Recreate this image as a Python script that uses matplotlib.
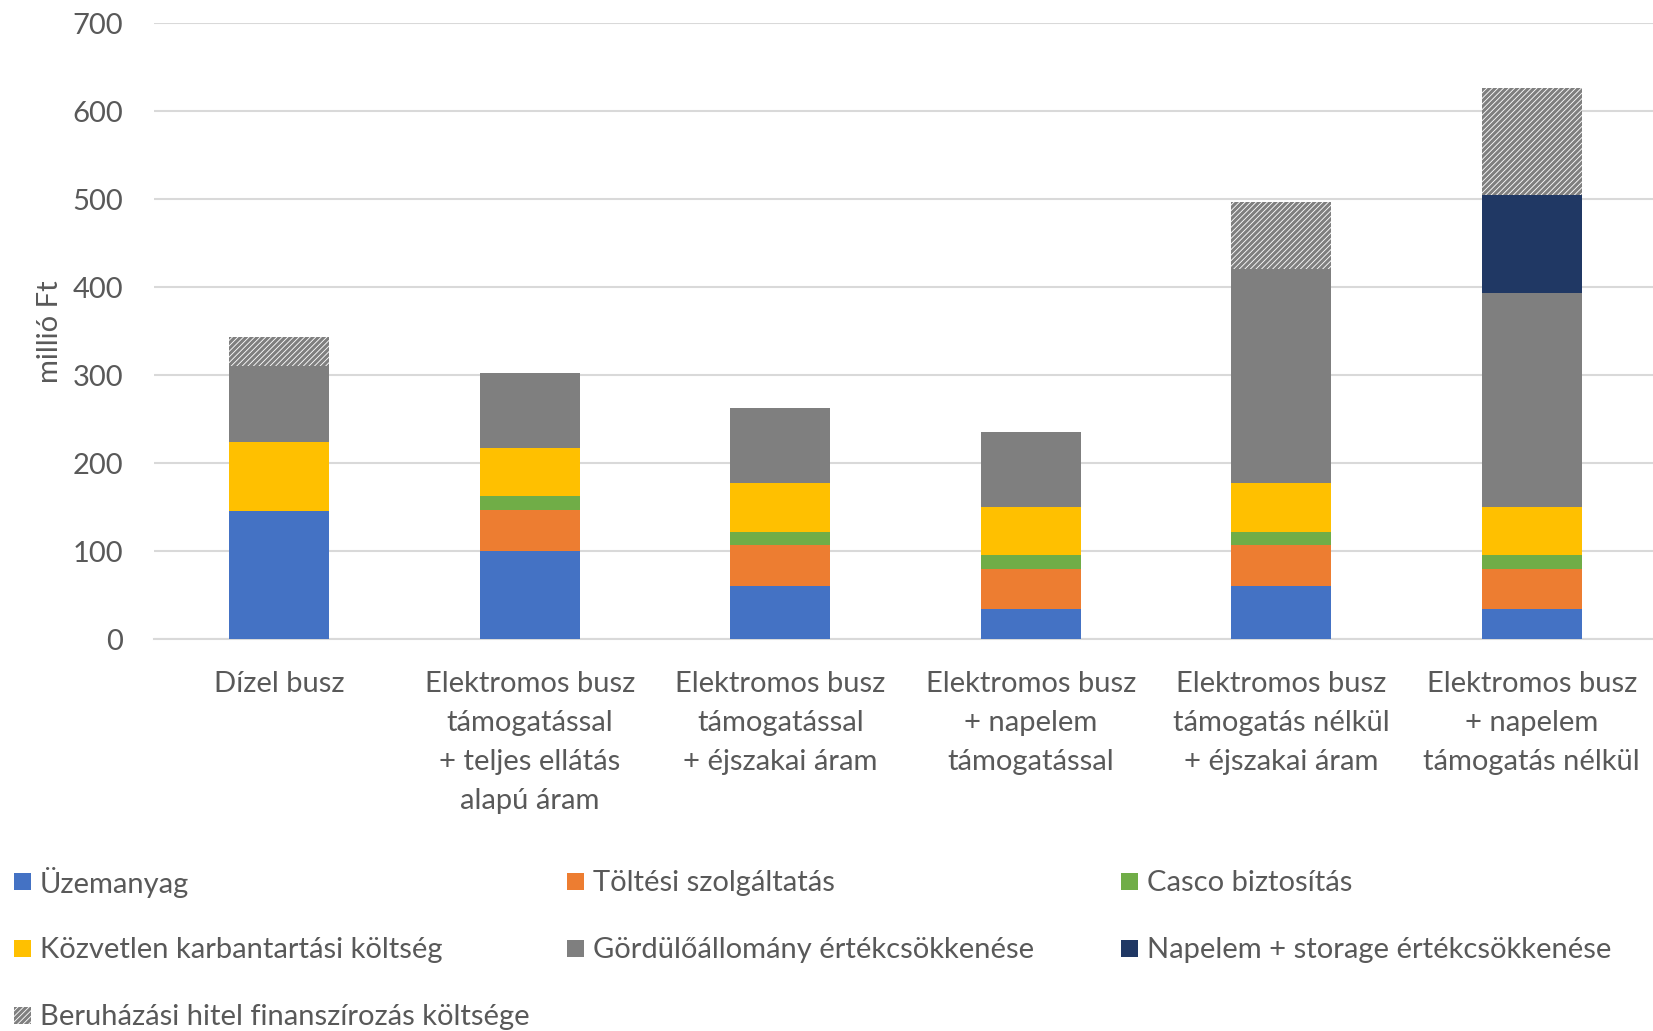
import numpy as np
import matplotlib.pyplot as plt
from matplotlib.patches import Rectangle

plt.rcParams['font.family'] = ['Lato', 'DejaVu Sans']
plt.rcParams['hatch.linewidth'] = 2.2
plt.rcParams['hatch.color'] = '#7F7F7F'

categories = [
    'Dízel busz',
    'Elektromos busz\ntámogatással\n+ teljes ellátás\nalapú áram',
    'Elektromos busz\ntámogatással\n+ éjszakai áram',
    'Elektromos busz\n+ napelem\ntámogatással',
    'Elektromos busz\ntámogatás nélkül\n+ éjszakai áram',
    'Elektromos busz\n+ napelem\ntámogatás nélkül',
]

# millió Ft per cost component
uzemanyag = [146, 100, 60, 34, 60, 34]
toltes = [0, 47, 47, 46, 47, 46]
casco = [0, 15, 15, 15, 15, 15]
karbantartas = [78, 55, 55, 55, 55, 55]
gordulo = [86, 85, 85, 85, 243, 243]
napelem = [0, 0, 0, 0, 0, 112]
hitel = [33, 0, 0, 0, 77, 121]

series = [
    ('Üzemanyag', uzemanyag, '#4472C4', None),
    ('Töltési szolgáltatás', toltes, '#ED7D31', None),
    ('Casco biztosítás', casco, '#70AD47', None),
    ('Közvetlen karbantartási költség', karbantartas, '#FFC000', None),
    ('Gördülőállomány értékcsökkenése', gordulo, '#7F7F7F', None),
    ('Napelem + storage értékcsökkenése', napelem, '#203864', None),
    ('Beruházási hitel finanszírozás költsége', hitel, 'white', '//////'),
]

W, H = 1653, 1031
FS = 21
fig = plt.figure(figsize=(W / 100, H / 100), dpi=100)
ax = fig.add_axes([154 / W, 1 - 639 / H, 6 * 250.5 / W, (639 - 23) / H])

x = np.arange(len(categories))
bottom = np.zeros(len(categories))
for name, vals, color, hatch in series:
    vals = np.array(vals, dtype=float)
    ax.bar(x, vals, 0.40, bottom=bottom, color=color, hatch=hatch,
           linewidth=0, zorder=3)
    bottom += vals

ax.set_xlim(-0.5, len(categories) - 0.5)
ax.set_ylim(0, 700)
ax.set_yticks(range(0, 701, 100))
ax.grid(axis='y', color='#D9D9D9', linewidth=1.5, zorder=0)
for s in ['top', 'right', 'left']:
    ax.spines[s].set_visible(False)
ax.spines['bottom'].set_color('#D9D9D9')
ax.spines['bottom'].set_linewidth(1.5)
ax.tick_params(axis='both', length=0, labelcolor='#595959', labelsize=FS)
ax.tick_params(axis='y', pad=22)
ax.tick_params(axis='x', pad=23)
ax.set_xticks(x)
ax.set_xticklabels(categories, linespacing=1.62)
fig.text(50 / W, 1 - 332 / H, 'millió Ft', rotation=90, ha='center',
         va='center', fontsize=FS, color='#595959')

# legend laid out row by row, three per row
col_x = [14, 567, 1121]
row_y = [882, 949, 1016]
for i, (name, vals, color, hatch) in enumerate(series):
    cx = col_x[i % 3]
    cy = row_y[i // 3]
    fig.patches.append(Rectangle((cx / W, 1 - (cy + 8) / H), 17 / W, 17 / H,
                                 transform=fig.transFigure, facecolor=color,
                                 hatch=hatch, linewidth=0))
    fig.text((cx + 26) / W, 1 - (cy + 1) / H, name, ha='left', va='center',
             fontsize=FS, color='#595959')

fig.savefig('out.png', dpi=100)
